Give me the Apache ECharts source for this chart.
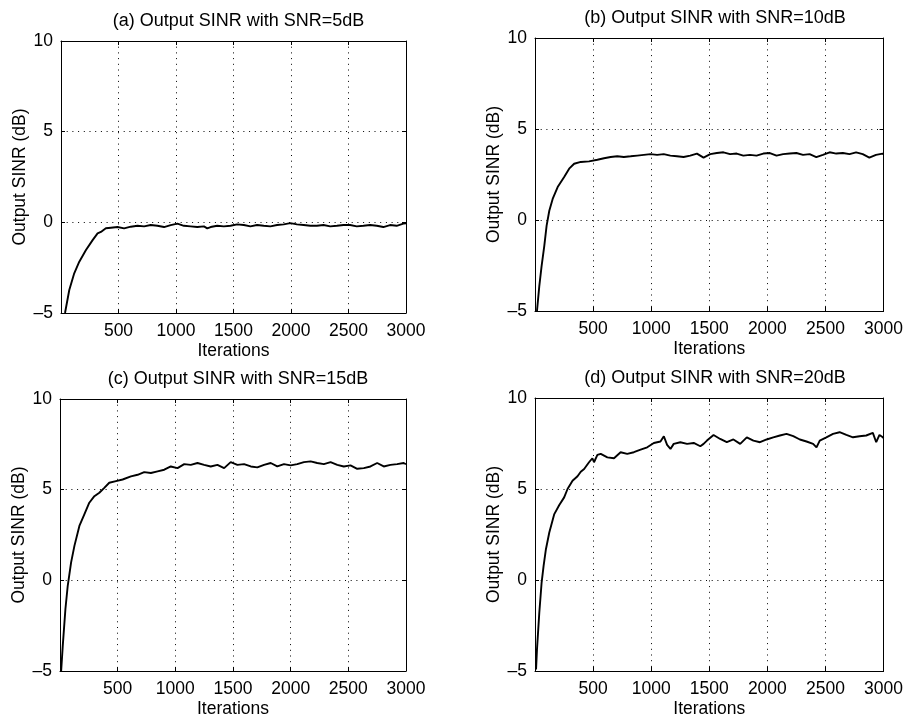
<!DOCTYPE html>
<html>
<head>
<meta charset="utf-8">
<script src="https://cdn.jsdelivr.net/npm/echarts@6/dist/echarts.min.js"></script>
<style>
html,body{margin:0;padding:0;background:#fff;}
#chart{width:906px;height:719px;}
</style>
</head>
<body>
<div id="chart"></div>
<script>
// ---- data ----
const TITLES = [
  '(a) Output SINR with SNR=5dB',
  '(b) Output SINR with SNR=10dB',
  '(c) Output SINR with SNR=15dB',
  '(d) Output SINR with SNR=20dB'
];
const X_NAME = 'Iterations';
const Y_NAME = 'Output SINR (dB)';
const X_TICKS = [0, 500, 1000, 1500, 2000, 2500, 3000];
const Y_TICKS = [-5, 0, 5, 10];

const ITER_A = [35, 72, 115, 159, 217, 275, 318, 347, 390,
  434, 491, 549, 607, 665, 723, 780, 838, 896, 954, 1012, 1069, 1127, 1185, 1243, 1272,
  1301, 1358, 1416, 1474, 1532, 1590, 1647, 1705, 1763, 1821, 1879, 1936, 1994, 2052,
  2110, 2168, 2225, 2283, 2341, 2399, 2457, 2514, 2572, 2630, 2688, 2746, 2803, 2861,
  2919, 2977, 3000];
const SINR_A = [-5.0, -3.73, -2.81, -2.17, -1.53, -0.98, -0.61, -0.53, -0.33,
  -0.30, -0.26, -0.33, -0.24, -0.19, -0.22, -0.15, -0.19, -0.26, -0.15, -0.07, -0.19,
  -0.22, -0.26, -0.22, -0.33, -0.26, -0.19, -0.22, -0.19, -0.11, -0.15, -0.22, -0.15,
  -0.19, -0.22, -0.15, -0.11, -0.04, -0.11, -0.15, -0.19, -0.19, -0.15, -0.22, -0.19,
  -0.15, -0.15, -0.22, -0.19, -0.15, -0.19, -0.26, -0.15, -0.19, -0.07, -0.05];

const ITER_B = [17, 37, 57, 80, 100, 123, 152, 195, 251, 294, 337, 394, 465,
  480, 537, 594, 651, 708, 765, 823, 880, 937, 994, 1051, 1108, 1165, 1222, 1279, 1336,
  1394, 1451, 1508, 1565, 1622, 1679, 1736, 1793, 1850, 1907, 1965, 2022, 2079, 2136,
  2193, 2250, 2307, 2364, 2421, 2478, 2536, 2593, 2650, 2707, 2764, 2821, 2878, 2935,
  2992, 3000];
const SINR_B = [-5.0, -3.63, -2.52, -1.42, -0.31, 0.51, 1.16, 1.81, 2.36, 2.82, 3.09, 3.19, 3.22,
  3.24, 3.31, 3.39, 3.46, 3.50, 3.46, 3.50, 3.54, 3.58, 3.62, 3.58, 3.62, 3.54, 3.50,
  3.46, 3.54, 3.65, 3.43, 3.62, 3.68, 3.72, 3.62, 3.65, 3.54, 3.58, 3.54, 3.65, 3.68,
  3.54, 3.62, 3.65, 3.68, 3.58, 3.62, 3.46, 3.58, 3.72, 3.65, 3.68, 3.62, 3.72, 3.62,
  3.43, 3.58, 3.65, 3.62];

const ITER_C = [10, 24, 47, 67, 96, 125, 168, 211, 254, 298, 341, 384, 427, 485, 543,
  615, 673, 730, 788, 846, 904, 961, 1019, 1077, 1134, 1192, 1250, 1307, 1365, 1423,
  1480, 1538, 1596, 1654, 1711, 1769, 1827, 1884, 1942, 2000, 2057, 2115, 2173, 2230,
  2288, 2346, 2404, 2461, 2519, 2577, 2634, 2692, 2750, 2807, 2865, 2923, 2980, 3000];
const SINR_C = [-5.0, -3.6, -1.58, -0.3, 0.98, 1.9, 3.0, 3.64, 4.28, 4.64, 4.83, 5.1, 5.38, 5.47, 5.56,
  5.73, 5.82, 5.97, 5.92, 6.01, 6.10, 6.28, 6.19, 6.41, 6.37, 6.47, 6.37, 6.28, 6.37,
  6.19, 6.52, 6.37, 6.41, 6.28, 6.23, 6.37, 6.47, 6.28, 6.41, 6.34, 6.41, 6.52, 6.56,
  6.47, 6.41, 6.52, 6.37, 6.28, 6.34, 6.15, 6.19, 6.28, 6.47, 6.28, 6.37, 6.41, 6.47, 6.40];

const ITER_D = [9, 17, 37, 57, 74, 94, 123, 166, 209, 251, 280, 323, 366, 394, 423, 465, 494, 508, 537,
  566, 623, 680, 737, 794, 851, 909, 966, 1023, 1080, 1109, 1137, 1166, 1194, 1251,
  1309, 1366, 1423, 1451, 1480, 1537, 1594, 1651, 1708, 1766, 1823, 1880, 1937, 1994,
  2051, 2108, 2165, 2223, 2280, 2337, 2394, 2423, 2451, 2508, 2565, 2622, 2680, 2737,
  2794, 2851, 2908, 2937, 2965, 2994, 3000];
const SINR_D = [-4.92, -3.82, -1.8, -0.14, 0.77, 1.69, 2.61, 3.62, 4.12, 4.54, 5.0, 5.45, 5.70, 5.95, 6.10, 6.47, 6.69, 6.47, 6.87,
  6.93, 6.74, 6.69, 7.02, 6.93, 7.02, 7.16, 7.29, 7.53, 7.61, 7.90, 7.42, 7.20, 7.48,
  7.57, 7.48, 7.53, 7.35, 7.48, 7.66, 7.97, 7.75, 7.57, 7.72, 7.48, 7.84, 7.66, 7.57,
  7.72, 7.84, 7.94, 8.03, 7.90, 7.72, 7.61, 7.48, 7.29, 7.66, 7.84, 8.03, 8.12, 7.97,
  7.84, 7.90, 7.94, 8.08, 7.57, 7.97, 7.84, 7.80];

const SERIES = [[ITER_A, SINR_A], [ITER_B, SINR_B], [ITER_C, SINR_C], [ITER_D, SINR_D]];

// ---- layout ----
const GRIDS = [
  {left: 61, top: 41, width: 345, height: 272},
  {left: 535, top: 38, width: 350, height: 273},
  {left: 60, top: 399, width: 346, height: 273},
  {left: 535, top: 398, width: 350, height: 274}
];
const FONT = 'Liberation Sans, Arial, Helvetica, sans-serif';
const FS = 17.5;

const option = {
  backgroundColor: '#fff',
  animation: false,
  title: [], grid: [], xAxis: [], yAxis: [], series: []
};

const gridLine = {show: true, lineStyle: {color: '#000', width: 1, type: [1, 4.7]}};
const axisLine = {show: true, onZero: false, lineStyle: {color: '#000', width: 1}};
const tick = {show: true, inside: true, length: 4, lineStyle: {color: '#000'}};

GRIDS.forEach((g, i) => {
  option.grid.push(Object.assign({containLabel: false}, g));
  option.title.push({
    text: TITLES[i],
    left: g.left + g.width / 2,
    top: g.top - 34,
    textAlign: 'center',
    textStyle: {fontFamily: FONT, fontSize: 18, fontWeight: 'normal', color: '#000'}
  });
  const xmin = X_TICKS[0], xmax = X_TICKS[X_TICKS.length - 1];
  const ymin = Y_TICKS[0], ymax = Y_TICKS[Y_TICKS.length - 1];
  option.xAxis.push({
    type: 'value', gridIndex: i, position: 'bottom', min: xmin, max: xmax, interval: 500,
    axisLine, axisTick: tick, splitLine: gridLine,
    name: X_NAME, nameLocation: 'middle', nameGap: 29,
    nameTextStyle: {fontFamily: FONT, fontSize: FS, color: '#000'},
    axisLabel: {fontFamily: FONT, fontSize: FS, color: '#000', margin: 9,
      formatter: v => (v === 0 ? '' : String(v))}
  });
  option.xAxis.push({
    type: 'value', gridIndex: i, position: 'top', min: xmin, max: xmax, interval: 500,
    axisLine, axisTick: tick, splitLine: {show: false}, axisLabel: {show: false}
  });
  option.yAxis.push({
    type: 'value', gridIndex: i, position: 'left', min: ymin, max: ymax, interval: 5,
    axisLine, axisTick: tick, splitLine: gridLine,
    name: Y_NAME, nameLocation: 'middle', nameGap: 30,
    nameTextStyle: {fontFamily: FONT, fontSize: FS, color: '#000'},
    axisLabel: {fontFamily: FONT, fontSize: FS, color: '#000', margin: 8,
      formatter: v => (v < 0 ? '\u2013' + Math.abs(v) : String(v))}
  });
  option.yAxis.push({
    type: 'value', gridIndex: i, position: 'right', min: ymin, max: ymax, interval: 5,
    axisLine, axisTick: tick, splitLine: {show: false}, axisLabel: {show: false}
  });
  const [xs, ys] = SERIES[i];
  option.series.push({
    type: 'line', xAxisIndex: 2 * i, yAxisIndex: 2 * i,
    data: xs.map((x, k) => [x, ys[k]]),
    showSymbol: false, symbol: 'none', clip: true,
    lineStyle: {color: '#000', width: 1.9},
    z: 5
  });
});

const chart = echarts.init(document.getElementById('chart'), null, {renderer: 'canvas'});
chart.setOption(option);
</script>
</body>
</html>
